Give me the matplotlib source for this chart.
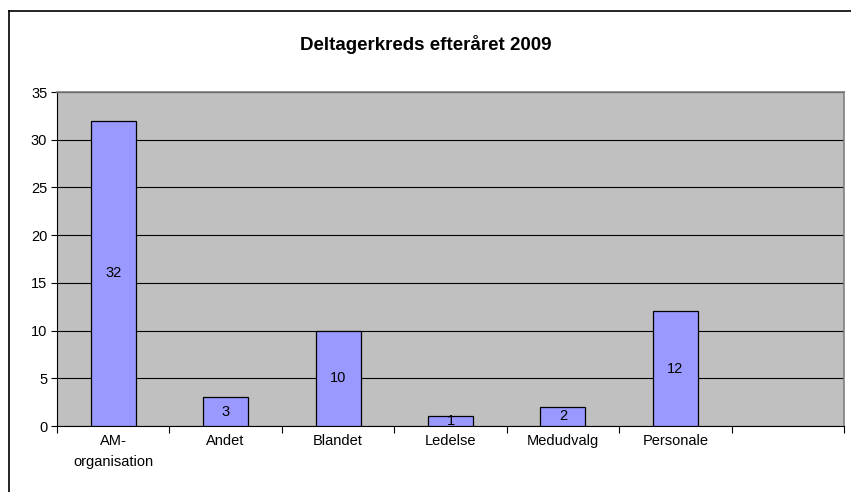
import matplotlib.pyplot as plt
from matplotlib.lines import Line2D

plt.rcParams['font.family'] = ['Liberation Sans', 'DejaVu Sans']

categories = ["AM-\norganisation", "Andet", "Blandet", "Ledelse", "Medudvalg", "Personale", ""]
values = [32, 3, 10, 1, 2, 12, None]
yticks = [0, 5, 10, 15, 20, 25, 30, 35]
title = "Deltagerkreds efteråret 2009"

fig = plt.figure(figsize=(8.51, 4.92), dpi=100)
# chart frame: only left and top edges are inside the picture
fig.lines.append(Line2D([8.5 / 851, 8.5 / 851], [0, 1 - 10.5 / 492], transform=fig.transFigure,
                        color="black", linewidth=1.2))
fig.lines.append(Line2D([8.5 / 851, 1], [1 - 10.5 / 492, 1 - 10.5 / 492], transform=fig.transFigure,
                        color="black", linewidth=1.2))

ax = fig.add_axes([57 / 851, 66 / 492, 787 / 851, 334 / 492])
ax.set_facecolor("#C0C0C0")

xs = [i for i, v in enumerate(values) if v is not None]
vals = [v for v in values if v is not None]
ax.bar(xs, vals, width=0.4, color="#9999FF", edgecolor="black", linewidth=0.9, zorder=3)
for x, v in zip(xs, vals):
    ax.text(x, v / 2, str(v), ha="center", va="center", fontsize=10.5, zorder=4)

ax.set_ylim(0, 35)
ax.set_xlim(-0.5, len(categories) - 0.5)
ax.set_yticks(yticks)
ax.yaxis.grid(True, color="black", linewidth=0.8, zorder=1)
ax.tick_params(axis="y", direction="out", length=4, labelsize=10.5, pad=3)

ax.set_xticks([i - 0.5 for i in range(len(categories) + 1)])
ax.set_xticklabels([])
ax.set_xticks(range(len(categories)), minor=True)
ax.set_xticklabels(categories, minor=True, fontsize=10.5, linespacing=1.6)
ax.tick_params(axis="x", which="major", direction="out", length=5)
ax.tick_params(axis="x", which="minor", length=0, pad=6)

for s in ["top", "right"]:
    ax.spines[s].set_color("#808080")
    ax.spines[s].set_linewidth(1.2)
ax.spines["left"].set_linewidth(0.8)
ax.spines["bottom"].set_linewidth(0.8)

fig.text(0.5, 1 - 45 / 492, title, ha="center", va="center", fontsize=13.5, fontweight="bold")

fig.savefig("out.png", dpi=100)
